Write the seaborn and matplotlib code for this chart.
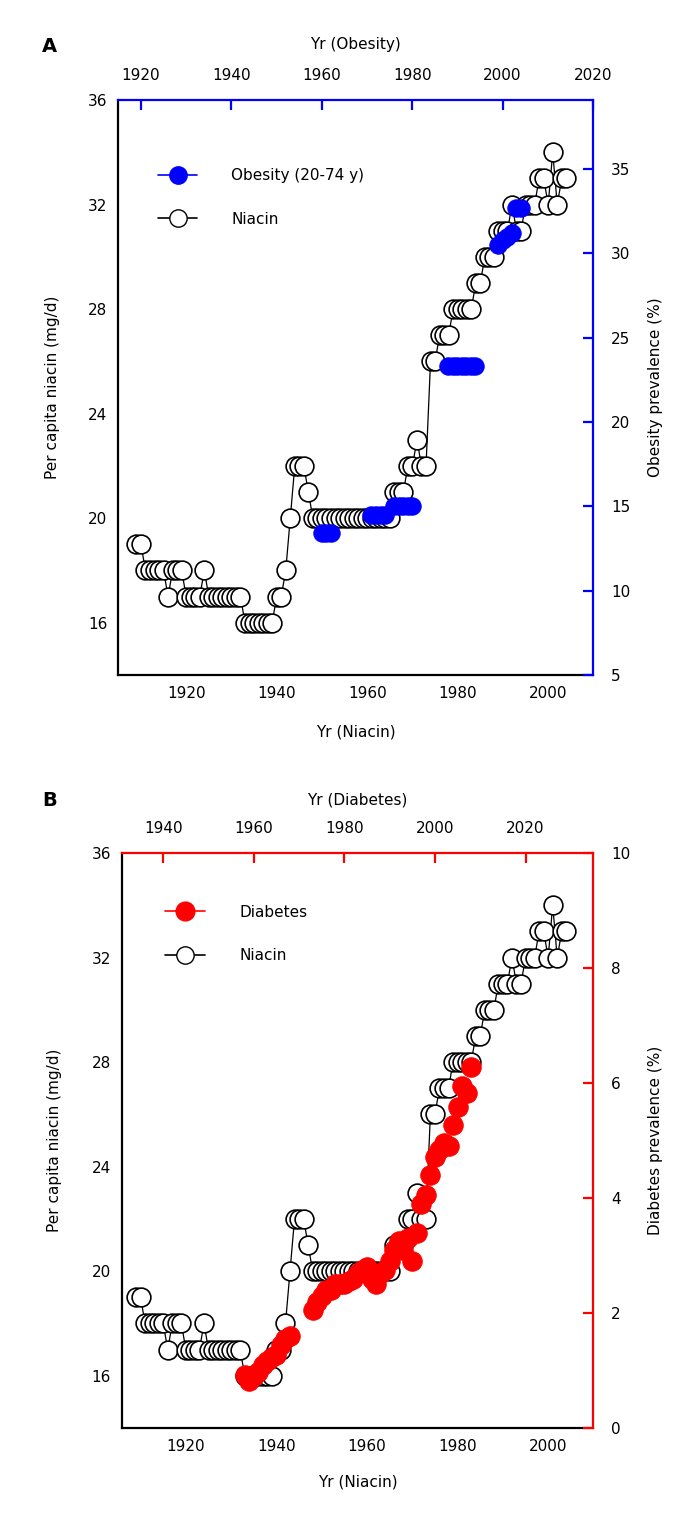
import numpy as np
import pandas as pd
import matplotlib
matplotlib.use("Agg")
import matplotlib.pyplot as plt
from matplotlib.lines import Line2D
import seaborn as sns

sns.set_theme(style="white")
plt.rcParams['font.family'] = ['DejaVu Sans']
plt.rcParams['text.color'] = 'black'
plt.rcParams['axes.labelcolor'] = 'black'

# ---------------- data ----------------
niacin_years = list(range(1909, 2005))
niacin_values = [19, 19, 18, 18, 18, 18, 18, 17, 18, 18,
                 18, 17, 17, 17, 17, 18, 17, 17, 17, 17,
                 17, 17, 17, 17, 16, 16, 16, 16, 16, 16,
                 16, 17, 17, 18, 20, 22, 22, 22, 21, 20,
                 20, 20, 20, 20, 20, 20, 20, 20, 20, 20,
                 20, 20, 20, 20, 20, 20, 20, 21, 21, 21,
                 22, 22, 23, 22, 22, 26, 26, 27, 27, 27,
                 28, 28, 28, 28, 28, 29, 29, 30, 30, 30,
                 31, 31, 31, 32, 31, 31, 32, 32, 32, 33,
                 33, 32, 34, 32, 33, 33]

obesity_years = [1960, 1961, 1962,
                 1971, 1972, 1973, 1974,
                 1976, 1977, 1978, 1979, 1980,
                 1988, 1989, 1990, 1991, 1992, 1993, 1994,
                 1999, 2000, 2001, 2002,
                 2003, 2004]
obesity_values = [13.4, 13.4, 13.4,
                  14.5, 14.5, 14.5, 14.5,
                  15.0, 15.0, 15.0, 15.0, 15.0,
                  23.3, 23.3, 23.3, 23.3, 23.3, 23.3, 23.3,
                  30.5, 30.8, 31.0, 31.2,
                  32.7, 32.7]
obesity_survey = [1, 1, 1, 2, 2, 2, 2, 3, 3, 3, 3, 3,
                  4, 4, 4, 4, 4, 4, 4, 5, 5, 5, 5, 6, 6]

diabetes_years = [1958, 1959, 1960, 1961, 1962, 1963, 1964, 1965, 1966, 1967, 1968,
                  1973, 1974, 1975, 1976, 1977, 1978, 1979, 1980, 1981, 1982,
                  1983, 1984, 1985, 1986, 1987, 1988, 1989, 1990, 1991, 1992,
                  1993, 1994, 1995, 1996, 1997, 1998, 1999, 2000, 2001, 2002,
                  2003, 2004, 2005, 2006, 2007, 2008]
diabetes_values = [0.93, 0.82, 0.91, 0.98, 1.10, 1.17, 1.23, 1.27, 1.45, 1.55, 1.60,
                   2.05, 2.20, 2.30, 2.40, 2.40, 2.50, 2.50, 2.50, 2.55, 2.60,
                   2.70, 2.75, 2.80, 2.60, 2.50, 2.70, 2.75, 2.90, 3.10, 3.25,
                   3.10, 3.30, 2.90, 3.40, 3.90, 4.05, 4.40, 4.72, 4.83, 4.95,
                   4.90, 5.27, 5.59, 5.94, 5.82, 6.28]

niacin_ticks = [16, 20, 24, 28, 32, 36]
obesity_ticks = [5, 10, 15, 20, 25, 30, 35]
diabetes_ticks = [0, 2, 4, 6, 8, 10]
year_ticks_bottom = [1920, 1940, 1960, 1980, 2000]
year_ticks_obesity = [1920, 1940, 1960, 1980, 2000, 2020]
year_ticks_diabetes = [1940, 1960, 1980, 2000, 2020]

niacin_df = pd.DataFrame({"year": niacin_years, "niacin": niacin_values})
obesity_df = pd.DataFrame({"year": obesity_years, "obesity": obesity_values,
                           "survey": obesity_survey})
diabetes_df = pd.DataFrame({"year": diabetes_years, "diabetes": diabetes_values})

# ---------------- figure ----------------
W, H = 700, 1518
fig = plt.figure(figsize=(W / 100, H / 100), dpi=100)

FS = 11
BLUE = "#0000ff"
RED = "#ff0000"


def rect(x0, x1, ytop, ybot):
    return [x0 / W, 1 - ybot / H, (x1 - x0) / W, (ybot - ytop) / H]


def style_main(ax):
    for s in ["left", "bottom"]:
        ax.spines[s].set_color("black")
        ax.spines[s].set_linewidth(1.6)
    for s in ["top", "right"]:
        ax.spines[s].set_visible(False)
    ax.tick_params(axis="both", direction="in", length=7, width=1.6,
                   labelsize=FS, colors="black", pad=8)
    ax.grid(False)
    ax.set_facecolor("none")


def style_twin(ax, color):
    for s in ["left", "bottom"]:
        ax.spines[s].set_visible(False)
    for s in ["top", "right"]:
        ax.spines[s].set_visible(True)
        ax.spines[s].set_color(color)
        ax.spines[s].set_linewidth(1.6)
    ax.xaxis.set_ticks_position("top")
    ax.xaxis.set_label_position("top")
    ax.yaxis.set_ticks_position("right")
    ax.yaxis.set_label_position("right")
    ax.tick_params(axis="both", direction="in", length=7, width=1.6,
                   color=color, labelcolor="black", labelsize=FS)
    ax.tick_params(axis="x", pad=12)
    ax.tick_params(axis="y", pad=13)
    ax.grid(False)
    ax.set_facecolor("none")


def draw_niacin(ax):
    sns.lineplot(data=niacin_df, x="year", y="niacin", ax=ax, estimator=None,
                 sort=False, color="black", linewidth=0.9, marker="o",
                 markersize=13.5, markerfacecolor="white",
                 markeredgecolor="black", markeredgewidth=1.2, legend=False)


# ============ Panel A ============
axA = fig.add_axes(rect(118.3, 593, 100, 675))
style_main(axA)
axA.set_xlim(1905.0, 2009.9)
axA.set_ylim(14, 36)
axA.set_xticks(year_ticks_bottom)
axA.set_yticks(niacin_ticks)
draw_niacin(axA)
axA.set_xlabel("Yr (Niacin)", fontsize=FS, labelpad=17)
axA.set_ylabel("Per capita niacin (mg/d)", fontsize=FS, labelpad=20)

axA2 = fig.add_axes(rect(118.3, 593, 100, 675))
style_twin(axA2, BLUE)
axA2.set_xlim(1915.0, 2019.9)
axA2.set_ylim(5, 39.1)
axA2.set_xticks(year_ticks_obesity)
axA2.set_yticks(obesity_ticks)
sns.lineplot(data=obesity_df, x="year", y="obesity", units="survey",
             estimator=None, ax=axA2, color=BLUE, linewidth=1.0, marker="o",
             markersize=12.5, markerfacecolor=BLUE, markeredgecolor=BLUE,
             legend=False)
axA2.set_xlabel("Yr (Obesity)", fontsize=FS, labelpad=14)
axA2.set_ylabel("Obesity prevalence (%)", fontsize=FS, labelpad=13)

hA = [Line2D([], [], color=BLUE, lw=1.2, marker="o", markersize=12.5,
             markerfacecolor=BLUE, markeredgecolor=BLUE),
      Line2D([], [], color="black", lw=1.2, marker="o", markersize=12.5,
             markerfacecolor="white", markeredgecolor="black")]
axA2.legend(hA, ["Obesity (20-74 y)", "Niacin"], loc="upper left",
            bbox_to_anchor=(0.083, 0.881), frameon=False, fontsize=FS,
            handlelength=2.6, handletextpad=2.2, labelspacing=1.85,
            borderpad=0, borderaxespad=0)

fig.text(42 / W, 1 - 46 / H, "A", fontsize=14, fontweight="bold",
         ha="left", va="center", color="black")

# ============ Panel B ============
axB = fig.add_axes(rect(122, 593, 853, 1428))
style_main(axB)
axB.set_xlim(1905.9, 2009.9)
axB.set_ylim(14, 36)
axB.set_xticks(year_ticks_bottom)
axB.set_yticks(niacin_ticks)
draw_niacin(axB)
axB.set_xlabel("Yr (Niacin)", fontsize=FS, labelpad=15)
axB.set_ylabel("Per capita niacin (mg/d)", fontsize=FS, labelpad=21)

axB2 = fig.add_axes(rect(122, 593, 853, 1428))
style_twin(axB2, RED)
axB2.set_xlim(1930.9, 2034.9)
axB2.set_ylim(0, 10)
axB2.set_xticks(year_ticks_diabetes)
axB2.set_yticks(diabetes_ticks)
sns.lineplot(data=diabetes_df, x="year", y="diabetes", estimator=None,
             ax=axB2, color=RED, linewidth=0, marker="o", markersize=14,
             markerfacecolor=RED, markeredgecolor=RED, legend=False)
axB2.set_xlabel("Yr (Diabetes)", fontsize=FS, labelpad=12)
axB2.set_ylabel("Diabetes prevalence (%)", fontsize=FS, labelpad=13)

hB = [Line2D([], [], color=RED, lw=1.2, marker="o", markersize=13.5,
             markerfacecolor=RED, markeredgecolor=RED),
      Line2D([], [], color="black", lw=1.2, marker="o", markersize=12.5,
             markerfacecolor="white", markeredgecolor="black")]
axB2.legend(hB, ["Diabetes", "Niacin"], loc="upper left",
            bbox_to_anchor=(0.091, 0.91), frameon=False, fontsize=FS,
            handlelength=2.6, handletextpad=2.3, labelspacing=1.85,
            borderpad=0, borderaxespad=0)

fig.text(42 / W, 1 - 800 / H, "B", fontsize=14, fontweight="bold",
         ha="left", va="center", color="black")

fig.savefig("out.png", dpi=100)
